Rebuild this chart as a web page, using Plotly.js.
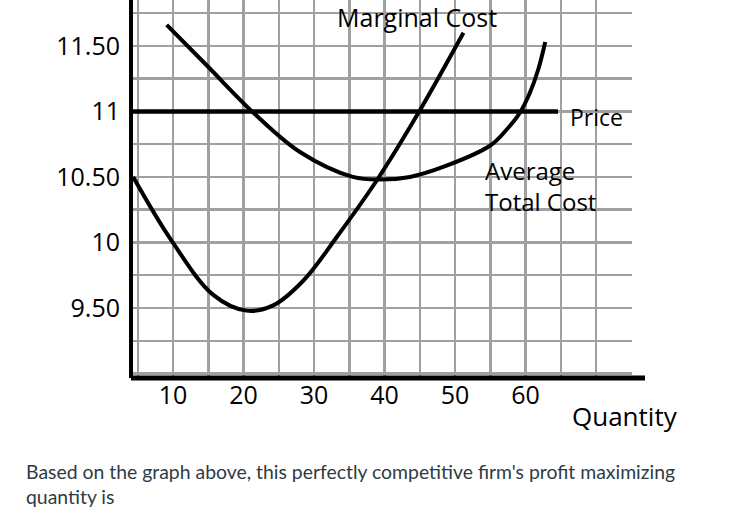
<!DOCTYPE html>
<html>
<head>
<meta charset="utf-8">
<script src="https://cdn.plot.ly/plotly-3.0.1.min.js"></script>
<style>
  html, body { margin: 0; padding: 0; background: #fff; }
  #costchart { width: 752px; height: 517px; }
</style>
</head>
<body>
<div id="costchart"></div>
<script>
// quantity / price
var mc_q = [4.35, 9.6, 15.7, 20.4, 24.2, 28.5, 33.2, 39.1, 44.6, 51.2];
var mc_p = [10.50, 10.03, 9.60, 9.48, 9.52, 9.71, 10.04, 10.49, 10.97, 11.60];

var atc_q = [9.1, 14.8, 21.4, 28.0, 35.5, 39.4, 43.6, 48.5, 55.0, 57.3, 59.2, 60.6, 61.8, 62.8];
var atc_p = [11.66, 11.35, 10.99, 10.69, 10.50, 10.48, 10.50, 10.58, 10.74, 10.86, 10.99, 11.14, 11.32, 11.53];

var price_q = [4.32, 64.6];
var price_p = [11, 11];

var x_ticks  = [5, 10, 15, 20, 25, 30, 35, 40, 45, 50, 55, 60, 65, 70, 75];
var x_labels = ['', '10', '', '20', '', '30', '', '40', '', '50', '', '60', '', '', ''];
var y_ticks  = [9, 9.25, 9.5, 9.75, 10, 10.25, 10.5, 10.75, 11, 11.25, 11.5, 11.75];
var y_labels = ['', '', '9.50', '', '10', '', '10.50', '', '11', '', '11.50', ''];

document.addEventListener("DOMContentLoaded", function() {
    var chart = document.getElementById('costchart');
    var font = 'Open Sans, sans-serif';
    var grid = '#a0a0a0';

    var mc = {
        x: mc_q, y: mc_p, mode: 'lines', name: 'Marginal Cost',
        line: { color: '#000', width: 4, shape: 'spline', smoothing: 1 }
    };
    var atc = {
        x: atc_q, y: atc_p, mode: 'lines', name: 'Average Total Cost',
        line: { color: '#000', width: 4, shape: 'spline', smoothing: 1 }
    };
    var price = {
        x: price_q, y: price_p, mode: 'lines', name: 'Price',
        line: { color: '#000', width: 4.5 }
    };

    var layout = {
        width: 752,
        height: 517,
        margin: { l: 133, r: 120, t: 0, b: 139 },
        paper_bgcolor: '#fff',
        plot_bgcolor: '#fff',
        showlegend: false,
        font: { family: font, color: '#000' },
        xaxis: {
            range: [4.32, 75.1],
            tickmode: 'array',
            tickvals: x_ticks,
            ticktext: x_labels,
            ticks: '',
            tickfont: { size: 25, family: font },
            showgrid: true,
            gridcolor: grid,
            gridwidth: 2.5,
            zeroline: false,
            showline: false,
            fixedrange: true
        },
        yaxis: {
            range: [8.966, 11.85],
            tickmode: 'array',
            tickvals: y_ticks,
            ticktext: y_labels,
            ticks: '',
            ticklabelstandoff: 4,
            tickfont: { size: 25, family: font },
            showgrid: true,
            gridcolor: grid,
            gridwidth: 2.5,
            zeroline: false,
            showline: true,
            linecolor: '#000',
            linewidth: 4,
            fixedrange: true
        },
        shapes: [{
            // quantity axis runs a bit past the grid
            type: 'line', xref: 'paper', yref: 'paper',
            x0: -0.004, x1: 1.026, y0: 0, y1: 0,
            line: { color: '#000', width: 5 }
        }],
        annotations: [
            { x: 44.6, y: 11.72, xref: 'x', yref: 'y', text: 'Marginal Cost', showarrow: false,
              xanchor: 'center', yanchor: 'middle', font: { size: 25 } },
            { x: 66.0, y: 10.96, xref: 'x', yref: 'y', text: 'Price', showarrow: false,
              xanchor: 'left', yanchor: 'middle', font: { size: 23 } },
            { x: 53.9, y: 10.43, xref: 'x', yref: 'y', text: 'Average<br>Total Cost', showarrow: false,
              xanchor: 'left', yanchor: 'middle', align: 'left', font: { size: 24 } },
            { x: 0.986, y: -0.1005, xref: 'paper', yref: 'paper', text: 'Quantity', showarrow: false,
              xanchor: 'center', yanchor: 'middle', font: { size: 26 } },
            { x: -0.2184, y: -0.2116, xref: 'paper', yref: 'paper',
              text: "Based on the graph above, this perfectly competitive firm's profit maximizing<br>quantity is",
              showarrow: false, xanchor: 'left', yanchor: 'top', align: 'left',
              font: { family: 'Lato, sans-serif', size: 19.4, color: '#2d3b45' } }
        ]
    };

    Plotly.newPlot(chart, [mc, atc, price], layout, { displayModeBar: false, staticPlot: true });
});
</script>
</body>
</html>
